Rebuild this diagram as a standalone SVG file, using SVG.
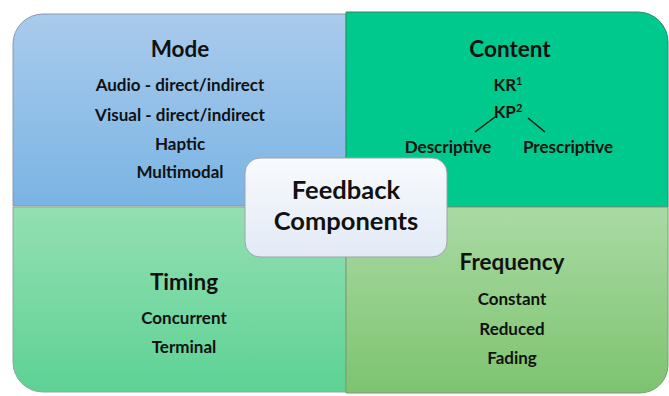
<svg xmlns="http://www.w3.org/2000/svg" width="669" height="396" viewBox="0 0 669 396">
<defs>
<linearGradient id="gMode" x1="0" y1="0" x2="0" y2="1"><stop offset="0" stop-color="#A9CBEC"/><stop offset="1" stop-color="#7AB4E4"/></linearGradient>
<linearGradient id="gTiming" x1="0" y1="0" x2="0" y2="1"><stop offset="0" stop-color="#94DFB2"/><stop offset="1" stop-color="#5DD294"/></linearGradient>
<linearGradient id="gFreq" x1="0" y1="0" x2="0" y2="1"><stop offset="0" stop-color="#AADAA4"/><stop offset="1" stop-color="#7DC46F"/></linearGradient>
<linearGradient id="gCenter" x1="0" y1="0" x2="0" y2="1"><stop offset="0" stop-color="#F8FAFD"/><stop offset="1" stop-color="#E2EAF6"/></linearGradient>
</defs>
<style>
text{font-family:Lato,"Liberation Sans",sans-serif;font-weight:bold;fill:#111;text-anchor:middle}
.h{font-size:22.5px}
.i{font-size:17px}
.c{font-size:25.5px}
.q{stroke-width:1}
</style>
<rect width="669" height="396" fill="#fff"/>
<g id="mode">
<path class="q" d="M13,206 V44 A30,30 0 0 1 43,14 H346 V206 Z" fill="url(#gMode)" stroke="#8a9aa8"/>
<text class="h" x="180" y="57">Mode</text>
<text class="i" x="180" y="91">Audio - direct/indirect</text>
<text class="i" x="180" y="121">Visual - direct/indirect</text>
<text class="i" x="180" y="150">Haptic</text>
<text class="i" x="180" y="178">Multimodal</text>
</g>
<g id="content">
<path class="q" d="M346,12 H638 A30,30 0 0 1 668,42 V207 H346 Z" fill="#00C98D" stroke="#2f8a66"/>
<text class="h" x="510" y="57">Content</text>
<text class="i" x="508" y="91">KR<tspan font-size="11" dy="-6">1</tspan></text>
<text class="i" x="508" y="118">KP<tspan font-size="11" dy="-6">2</tspan></text>
<text class="i" x="448" y="153">Descriptive</text>
<text class="i" x="568" y="153">Prescriptive</text>
</g>
<g id="timing">
<path class="q" d="M13,207 H346 V392 H43 A30,30 0 0 1 13,362 Z" fill="url(#gTiming)" stroke="#8aa898"/>
<text class="h" x="184" y="290">Timing</text>
<text class="i" x="184" y="324">Concurrent</text>
<text class="i" x="184" y="353">Terminal</text>
</g>
<g id="frequency">
<path class="q" d="M346,207 H668 V365 A28,28 0 0 1 640,393 H346 Z" fill="url(#gFreq)" stroke="#7a9a78"/>
<text class="h" x="512" y="270">Frequency</text>
<text class="i" x="512" y="305">Constant</text>
<text class="i" x="512" y="335">Reduced</text>
<text class="i" x="512" y="364">Fading</text>
</g>
<g id="center">
<rect x="245" y="158" width="202" height="99" rx="15" fill="url(#gCenter)" stroke="#9aa3ad"/>
<text class="c" x="346" y="199">Feedback</text>
<text class="c" x="346" y="230">Components</text>
</g>
<g id="connectors" stroke="#111" stroke-width="1.5">
<line x1="475" y1="132" x2="495" y2="117"/>
<line x1="528" y1="118" x2="545" y2="132"/>
</g>
</svg>
